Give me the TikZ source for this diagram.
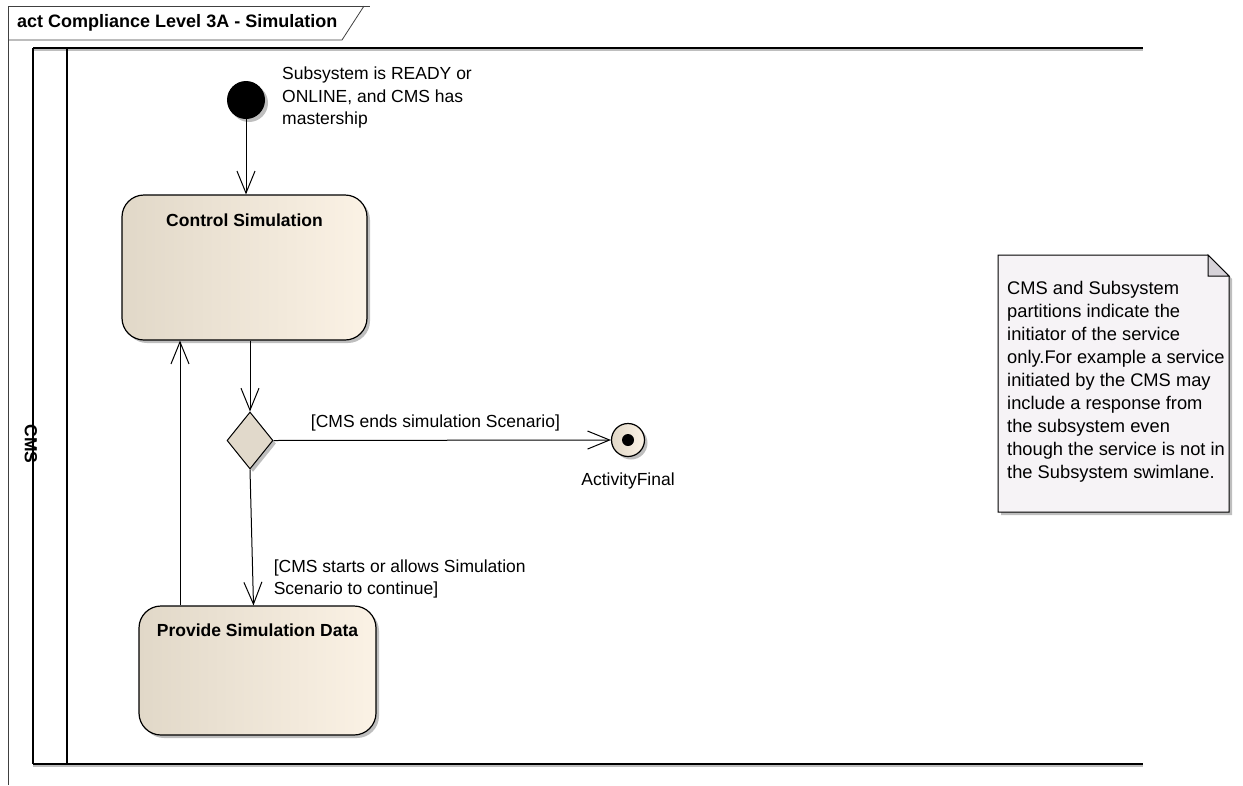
\documentclass[tikz,border=0pt]{standalone}
\usepackage{fontspec}
\setmainfont{Liberation Sans}
\usetikzlibrary{calc}
\usetikzlibrary{arrows.meta}
\usetikzlibrary{shapes.geometric}
\usetikzlibrary{shadows}

\definecolor{actleft}{HTML}{E1D8C8}
\definecolor{actright}{HTML}{FBF2E5}
\definecolor{decfill}{HTML}{E1D9CB}
\definecolor{notefill}{HTML}{F6F3F6}
\definecolor{foldfill}{HTML}{D6D2D8}
\definecolor{shadowgray}{HTML}{BEBEBE}
\definecolor{framegray}{HTML}{404040}

\begin{document}
\begin{tikzpicture}[x=1pt,y=-1pt,
    txt/.style={font=\fontsize{17.5}{22.5}\selectfont, inner sep=0pt},
    btxt/.style={font=\fontsize{17.5}{22.5}\selectfont\bfseries, inner sep=0pt},
    eashadow/.style={drop shadow={shadow xshift=3pt,shadow yshift=-3pt,fill=shadowgray,opacity=1}},
    action/.style={draw=black, line width=1.2pt, rounded corners=22pt,
        left color=actleft, right color=actright, eashadow},
    flow/.style={draw=black, line width=1pt, -{Straight Barb[length=22pt,width=18pt,line width=1pt]}}
]
\useasboundingbox (0,0) rectangle (1243,785);

\coordinate (init)  at (246, 100);
\coordinate (ctrlc) at (244.5, 267.5);
\coordinate (decc)  at (250, 440.5);
\coordinate (provc) at (257.5, 670.5);
\coordinate (finc)  at (628, 440);
\coordinate (loopx) at (180, 0);

\newcommand{\flowedge}[2]{
    \draw[flow] (#1)--(#2);
}

% frame and swimlane
\draw[framegray, line width=0.8pt] (8,785)--(8,6)--(370,6);
\draw[framegray, line width=0.8pt] (8,40)--(342,40)--(364,6);
\node[btxt, font=\fontsize{18}{22.5}\selectfont\bfseries, anchor=west] (title) at (17,23)
    {act Compliance Level 3A - Simulation};

\draw[shadowgray, line width=2pt] (33,50)--(1143,50);
\draw[black, line width=1.8pt] (33,48)--(1143,48);
\draw[shadowgray, line width=2pt] (33,766)--(1143,766);
\draw[black, line width=1.8pt] (33,764)--(1143,764);
\draw[black, line width=1.2pt] (33,48)--(33,764);
\draw[black, line width=1.2pt] (67,48)--(67,764);
\node[btxt, rotate=-90] (lane) at (31,444) {CMS};

% nodes
\node[circle, fill=black, minimum size=38pt, inner sep=0pt, eashadow] (start) at (init) {};
\node[txt, anchor=north west, align=left] (startnote) at (282,67)
    {Subsystem is READY or\\ONLINE, and CMS has\\mastership};

\node[action, minimum width=245pt, minimum height=145pt,
    label={[btxt, anchor=north, yshift=-19pt]north:Control Simulation}] (ctrl) at (ctrlc) {};

\node[diamond, draw=black, line width=1pt, fill=decfill, aspect=0.82,
    minimum width=46pt, minimum height=57pt, inner sep=0pt, eashadow] (dec) at (decc) {};

\node[action, minimum width=237pt, minimum height=129pt,
    label={[btxt, anchor=north, yshift=-18pt]north:Provide Simulation Data}] (prov) at (provc) {};

\node[circle, draw=black, line width=1.2pt, left color=actleft, right color=actright,
    minimum size=33pt, inner sep=0pt, eashadow,
    label={[txt, label distance=16pt]below:ActivityFinal}] (final) at (finc) {};
\fill[black] (final) circle[radius=6pt];

% note
\fill[shadowgray] (1001,258)--(1211,258)--(1232,279)--(1232,515)--(1001,515)--cycle;
\draw[black, line width=1pt, fill=notefill] (998,255)--(1208,255)--(1229,276)--(1229,512)--(998,512)--cycle;
\draw[black, line width=1pt, fill=foldfill] (1208,255)--(1208,276)--(1229,276)--cycle;
\node[txt, font=\fontsize{18.3}{23}\selectfont, anchor=north west, align=left] (note) at (1007,281)
    {CMS and Subsystem\\partitions indicate the\\initiator of the service\\only.For example a service\\initiated by the CMS may\\include a response from\\the subsystem even\\though the service is not in\\the Subsystem swimlane.};

% flows
\flowedge{start}{start |- ctrl.north}
\flowedge{ctrl.south -| dec.north}{dec.north}
\draw[flow] (dec.east)--(final.west)
    node[txt, pos=0.48, above=9pt] {[CMS ends simulation Scenario]};
\draw[flow] (dec.south)--([xshift=-4pt]prov.north)
    node[txt, pos=0.66, anchor=north west, xshift=21pt, align=left]
    {[CMS starts or allows Simulation\\Scenario to continue]};
\flowedge{prov.north -| loopx}{ctrl.south -| loopx}
\end{tikzpicture}
\end{document}
